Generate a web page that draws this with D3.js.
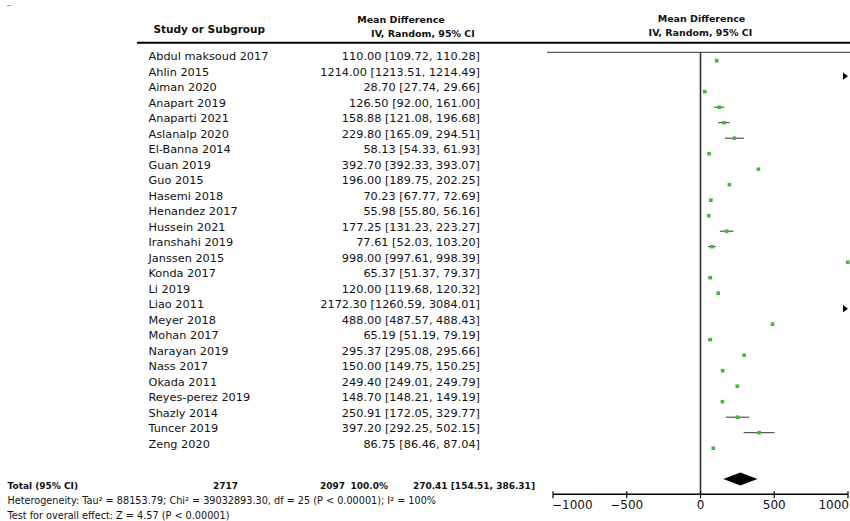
<!DOCTYPE html>
<html>
<head>
<meta charset="utf-8">
<script src="https://cdn.jsdelivr.net/npm/d3@7"></script>
<style>
  html, body { margin: 0; padding: 0; background: #fff; }
  svg { display: block; font-family: "DejaVu Sans", Verdana, sans-serif; }
</style>
</head>
<body>
<svg id="chart" width="850" height="521"></svg>
<script>
// Study-level mean differences with 95% CI (IV, random effects)
const studies = [
  "Abdul maksoud 2017", "Ahlin 2015", "Aiman 2020", "Anapart 2019", "Anaparti 2021",
  "Aslanalp 2020", "El-Banna 2014", "Guan 2019", "Guo 2015", "Hasemi 2018",
  "Henandez 2017", "Hussein 2021", "Iranshahi 2019", "Janssen 2015", "Konda 2017",
  "Li 2019", "Liao 2011", "Meyer 2018", "Mohan 2017", "Narayan 2019",
  "Nass 2017", "Okada 2011", "Reyes-perez 2019", "Shazly 2014", "Tuncer 2019", "Zeng 2020"
];
const meanDiff = [110.00, 1214.00, 28.70, 126.50, 158.88, 229.80, 58.13, 392.70, 196.00, 70.23,
  55.98, 177.25, 77.61, 998.00, 65.37, 120.00, 2172.30, 488.00, 65.19, 295.37,
  150.00, 249.40, 148.70, 250.91, 397.20, 86.75];
const ciLow = [109.72, 1213.51, 27.74, 92.00, 121.08, 165.09, 54.33, 392.33, 189.75, 67.77,
  55.80, 131.23, 52.03, 997.61, 51.37, 119.68, 1260.59, 487.57, 51.19, 295.08,
  149.75, 249.01, 148.21, 172.05, 292.25, 86.46];
const ciHigh = [110.28, 1214.49, 29.66, 161.00, 196.68, 294.51, 61.93, 393.07, 202.25, 72.69,
  56.16, 223.27, 103.20, 998.39, 79.37, 120.32, 3084.01, 488.43, 79.19, 295.66,
  150.25, 249.79, 149.19, 329.77, 502.15, 87.04];

// Pooled estimate and summary figures
const pooled = { md: 270.41, lo: 154.51, hi: 386.31 };
const totals = ["2717", "2097", "100.0%"];
const axisTicks = [-1000, -500, 0, 500, 1000];
const heterogeneityText = "Heterogeneity: Tau\u00b2 = 88153.79; Chi\u00b2 = 39032893.30, df = 25 (P < 0.00001); I\u00b2 = 100%";
const overallText = "Test for overall effect: Z = 4.57 (P < 0.00001)";

const fmt = d3.format(".2f");
const ciLabel = (m, l, h) => `${fmt(m)} [${fmt(l)}, ${fmt(h)}]`;

const svg = d3.select("#chart");
const ink = "#111";

const x = d3.scaleLinear().domain([-1000, 1000]).range([553, 848]);
const y = d3.scalePoint().domain(studies).range([60.7, 448.2]);

// small mark in the top-left corner
svg.append("line").attr("x1", 7).attr("x2", 11).attr("y1", 5.5).attr("y2", 5.5)
  .attr("stroke", "#999").attr("stroke-width", 1);

// Column headers
svg.append("text").attr("x", 153.5).attr("y", 33)
  .attr("font-size", 10.5).attr("font-weight", "bold").attr("fill", ink)
  .text("Study or Subgroup");
svg.append("text").attr("x", 401).attr("y", 23).attr("text-anchor", "middle")
  .attr("font-size", 9.5).attr("font-weight", "bold").attr("fill", ink)
  .text("Mean Difference");
svg.append("text").attr("x", 423).attr("y", 37).attr("text-anchor", "middle")
  .attr("font-size", 9.5).attr("font-weight", "bold").attr("fill", ink)
  .text("IV, Random, 95% CI");
svg.append("text").attr("x", x(0) + 1).attr("y", 21.5).attr("text-anchor", "middle")
  .attr("font-size", 9.5).attr("font-weight", "bold").attr("fill", ink)
  .text("Mean Difference");
svg.append("text").attr("x", x(0)).attr("y", 36).attr("text-anchor", "middle")
  .attr("font-size", 9.5).attr("font-weight", "bold").attr("fill", ink)
  .text("IV, Random, 95% CI");

// Header rules
svg.append("line").attr("x1", 137).attr("x2", 850).attr("y1", 42.7).attr("y2", 42.7)
  .attr("stroke", "#000").attr("stroke-width", 2);
svg.append("line").attr("x1", 547).attr("x2", 850).attr("y1", 52.3).attr("y2", 52.3)
  .attr("stroke", "#333").attr("stroke-width", 1);

// Study rows: names and CI text
const rows = svg.append("g").attr("font-size", 11.3).attr("fill", ink);
rows.selectAll("text.name").data(studies).join("text")
  .attr("class", "name")
  .attr("x", 148.5).attr("y", d => y(d) - 0.5)
  .text(d => d);
rows.selectAll("text.ci").data(studies).join("text")
  .attr("class", "ci")
  .attr("x", 480).attr("y", d => y(d) - 0.5).attr("text-anchor", "end")
  .text((d, i) => ciLabel(meanDiff[i], ciLow[i], ciHigh[i]));

// Zero line
svg.append("line").attr("x1", x(0)).attr("x2", x(0)).attr("y1", 52.3).attr("y2", 494.3)
  .attr("stroke", "#333").attr("stroke-width", 1.6);

// Forest plot marks
const [xmin, xmax] = x.domain();
const plot = svg.append("g");
studies.forEach((s, i) => {
  const yy = y(s);
  const lo = Math.max(ciLow[i], xmin), hi = Math.min(ciHigh[i], xmax);
  if (lo < hi) {
    plot.append("line").attr("x1", x(lo)).attr("x2", x(hi)).attr("y1", yy).attr("y2", yy)
      .attr("stroke", "#333").attr("stroke-width", 1);
  }
  if (ciHigh[i] > xmax) {
    const xe = x(xmax);
    plot.append("path")
      .attr("d", `M${xe - 5},${yy - 3.6}L${xe},${yy}L${xe - 5},${yy + 3.6}Z`)
      .attr("fill", "#000");
  }
  if (meanDiff[i] >= xmin && meanDiff[i] <= xmax) {
    plot.append("rect")
      .attr("x", x(meanDiff[i]) - 1.8).attr("y", yy - 1.8)
      .attr("width", 3.6).attr("height", 3.6)
      .attr("fill", "#43b93a");
  }
});

// Pooled diamond
const dy = 479;
plot.append("path")
  .attr("d", `M${x(pooled.lo)},${dy}L${x(pooled.md)},${dy - 6.6}L${x(pooled.hi)},${dy}L${x(pooled.md)},${dy + 6.6}Z`)
  .attr("fill", "#000");

// Axis: end labels sit inside the axis span
const axisY = 494.3;
const axis = svg.append("g").attr("transform", `translate(0,${axisY})`);
axis.append("line").attr("x1", x(xmin)).attr("x2", x(xmax)).attr("y1", 0).attr("y2", 0)
  .attr("stroke", "#000").attr("stroke-width", 1.4);
axis.selectAll("line.tick").data(axisTicks).join("line")
  .attr("class", "tick")
  .attr("x1", d => x(d)).attr("x2", d => x(d)).attr("y1", -3).attr("y2", 4)
  .attr("stroke", "#000").attr("stroke-width", 1.2);
axis.selectAll("text").data(axisTicks).join("text")
  .attr("x", d => x(d) + (d === xmin ? -1 : d === xmax ? 1 : 0)).attr("y", 14.5)
  .attr("text-anchor", d => d === xmin ? "start" : d === xmax ? "end" : "middle")
  .attr("font-size", 12).attr("fill", ink)
  .text(d => d < 0 ? "\u2212" + Math.abs(d) : String(d));

// Total row
const tot = svg.append("g").attr("font-size", 9).attr("font-weight", "bold").attr("fill", ink);
tot.append("text").attr("x", 7.5).attr("y", 489).text("Total (95% CI)");
const totalX = [238, 345, 388];
tot.selectAll("text.num").data(totals).join("text")
  .attr("class", "num")
  .attr("x", (d, i) => totalX[i]).attr("y", 489).attr("text-anchor", "end")
  .text(d => d);
tot.append("text").attr("x", 535).attr("y", 489).attr("text-anchor", "end")
  .text(ciLabel(pooled.md, pooled.lo, pooled.hi));

// Footer statistics
const foot = svg.append("g").attr("font-size", 9.7).attr("fill", ink);
foot.append("text").attr("x", 7.5).attr("y", 504).text(heterogeneityText);
foot.append("text").attr("x", 7.5).attr("y", 518.5).text(overallText);
</script>
</body>
</html>
